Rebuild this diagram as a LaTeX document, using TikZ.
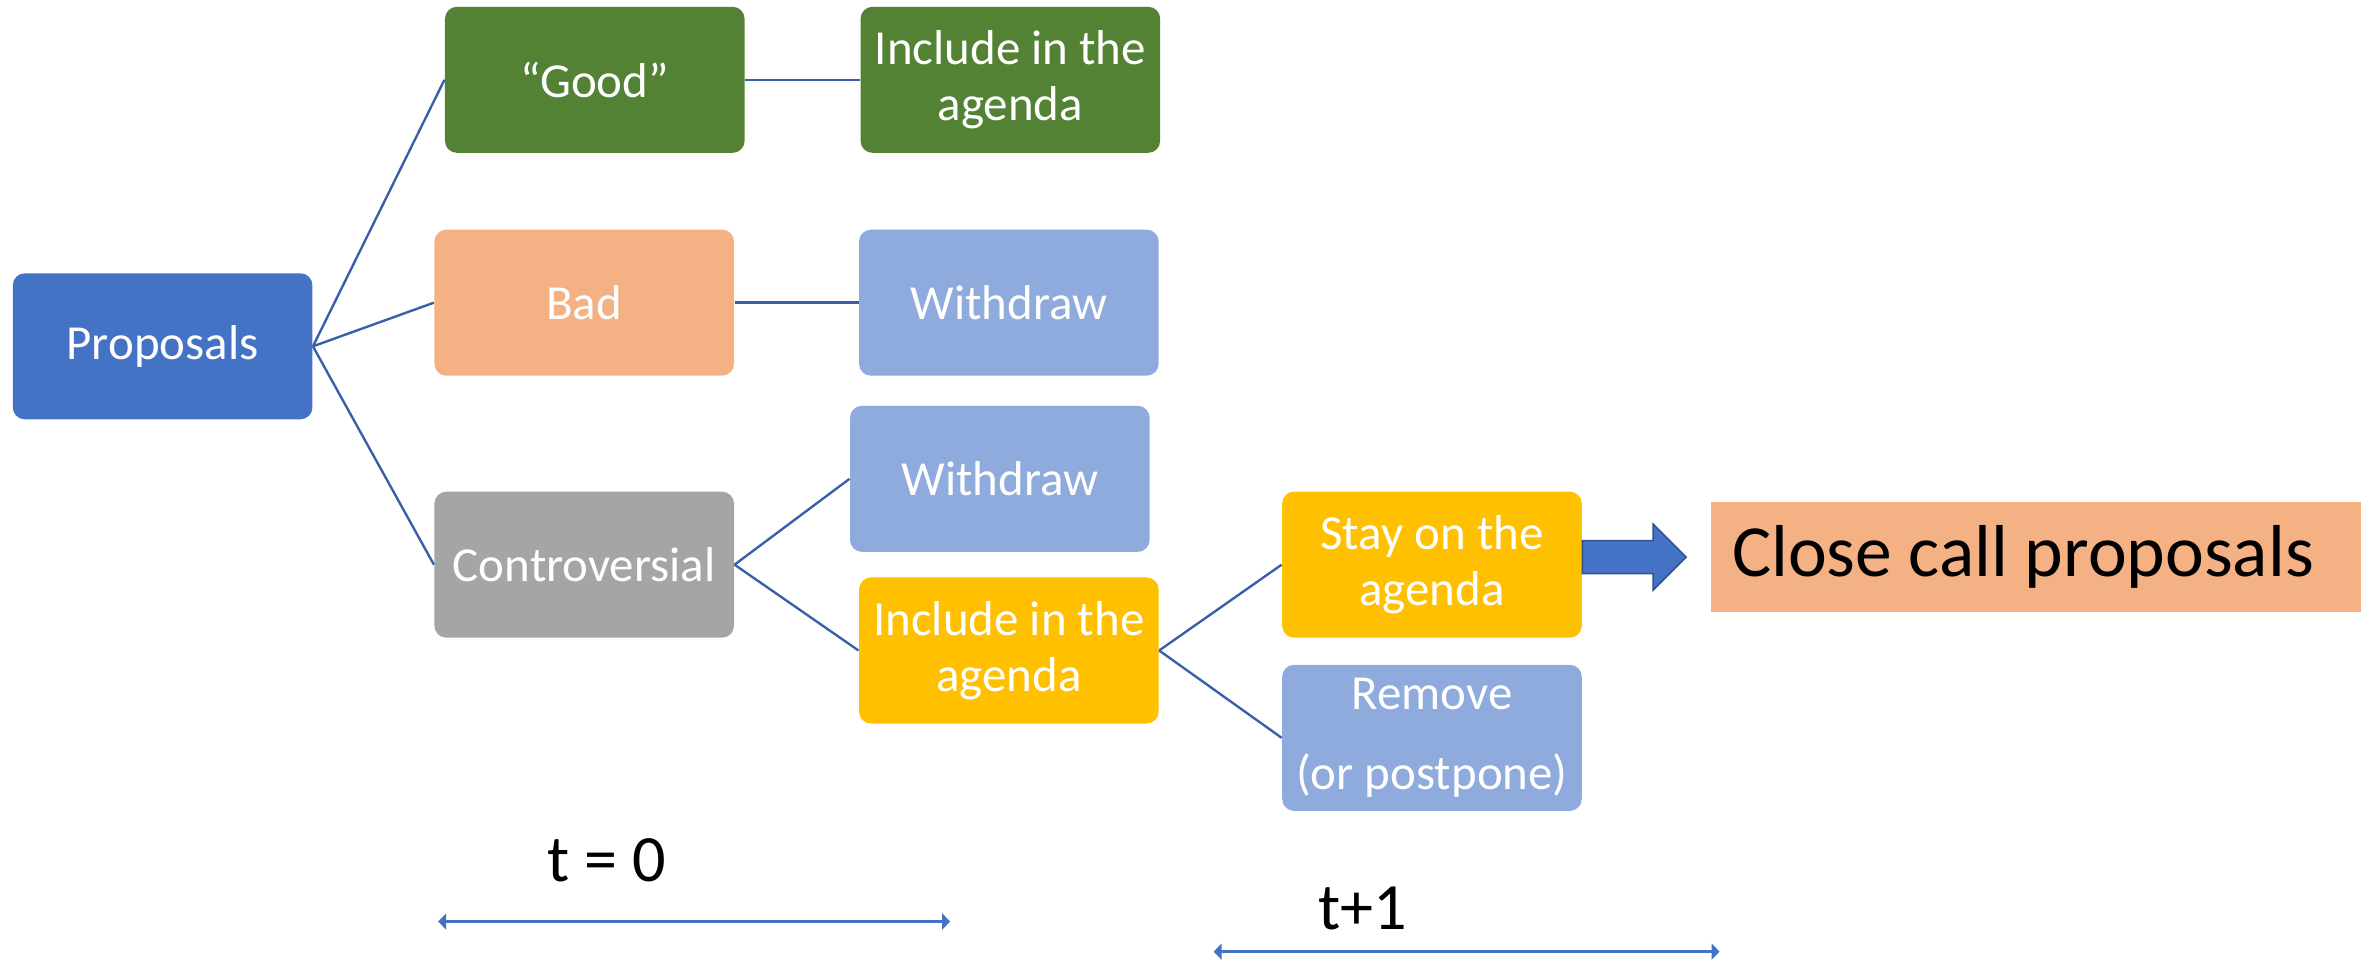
\documentclass[tikz,border=0pt]{standalone}
\usepackage{fontspec}
\setmainfont{Carlito}
\usepackage{xcolor}
\usepackage{tikz}
\usetikzlibrary{positioning,arrows.meta,calc}
\definecolor{propblue}{HTML}{4472C4}
\definecolor{lineblue}{HTML}{3A5FAA}
\definecolor{arrowedge}{HTML}{2F528F}
\definecolor{goodgreen}{HTML}{548235}
\definecolor{badorange}{HTML}{F4B183}
\definecolor{lightblue}{HTML}{8FAADC}
\definecolor{greybox}{HTML}{A5A5A5}
\definecolor{gold}{HTML}{FFC000}

\begin{document}
\begin{tikzpicture}[x=0.02cm, y=-0.02cm,
  box/.style={rounded corners=4.5pt, minimum width=3.98cm, minimum height=1.94cm,
    inner sep=0pt, align=center, text=white, font=\fontsize{18.5}{21}\selectfont},
  link/.style={draw=lineblue, line width=0.9pt},
  span/.style={draw=propblue, line width=1.3pt,
    {Triangle[width=6pt,length=3pt]}-{Triangle[width=6pt,length=3pt]}},
  stamp/.style={font=\fontsize{25}{30}\selectfont}]
\useasboundingbox (0,0) rectangle (1568,640);
% first column
\node[box, fill=propblue] (proposals) at (108,230) {Proposals};
% classes at t = 0
\node[box, fill=goodgreen] (good) at (395,53) {“Good”};
\node[box, fill=badorange] (bad) at (388,201) {Bad};
\node[box, fill=greybox] (controversial) at (388,375) {Controversial};
% decisions
\node[box, fill=goodgreen] (includeA) at (671,53) {Include in the\\agenda};
\node[box, fill=lightblue] (withdrawA) at (670,201) {Withdraw};
\node[box, fill=lightblue] (withdrawB) at (664,318) {Withdraw};
\node[box, fill=gold] (includeB) at (670,432) {Include in the\\agenda};
% t+1
\node[box, fill=gold] (stay) at (951,375) {Stay on the\\agenda};
\node[box, fill=lightblue] (remove) at (951,490) {Remove\\[9pt](or postpone)};
\node[fill=badorange, anchor=west, minimum height=1.46cm, inner xsep=0.28cm,
  inner ysep=0pt, text width=8.08cm, align=flush left,
  font=\fontsize{27.8}{33}\selectfont] (closecall) at (1136,370) {Close call proposals};
% connectors
\draw[link] (proposals.east) -- (good.west);
\draw[link] (proposals.east) -- (bad.west);
\draw[link] (proposals.east) -- (controversial.west);
\draw[link] (good.east) -- (includeA.west);
\draw[link] (bad.east) -- (withdrawA.west);
\draw[link] (controversial.east) -- (withdrawB.west);
\draw[link] (controversial.east) -- (includeB.west);
\draw[link] (includeB.east) -- (stay.west);
\draw[link] (includeB.east) -- (remove.west);
% block arrow
\filldraw[fill=propblue, draw=arrowedge, line width=0.6pt]
  ($(stay.east)+(0,-16)$) -- ++(47,0) -- ++(0,-11) -- ++(22,22)
  -- ++(-22,22) -- ++(0,-11) -- ++(-47,0) -- cycle;
% time spans
\node[stamp] (tzero) at (403,571) {t = 0};
\node[stamp] (tone) at (905,603) {t+1};
\coordinate (zeroL) at (291,612);
\coordinate (zeroR) at (631,612);
\coordinate (oneL) at (806,632);
\coordinate (oneR) at (1142,632);
\draw[span] (zeroL) -- (zeroR);
\draw[span] (oneL) -- (oneR);
\end{tikzpicture}
\end{document}
